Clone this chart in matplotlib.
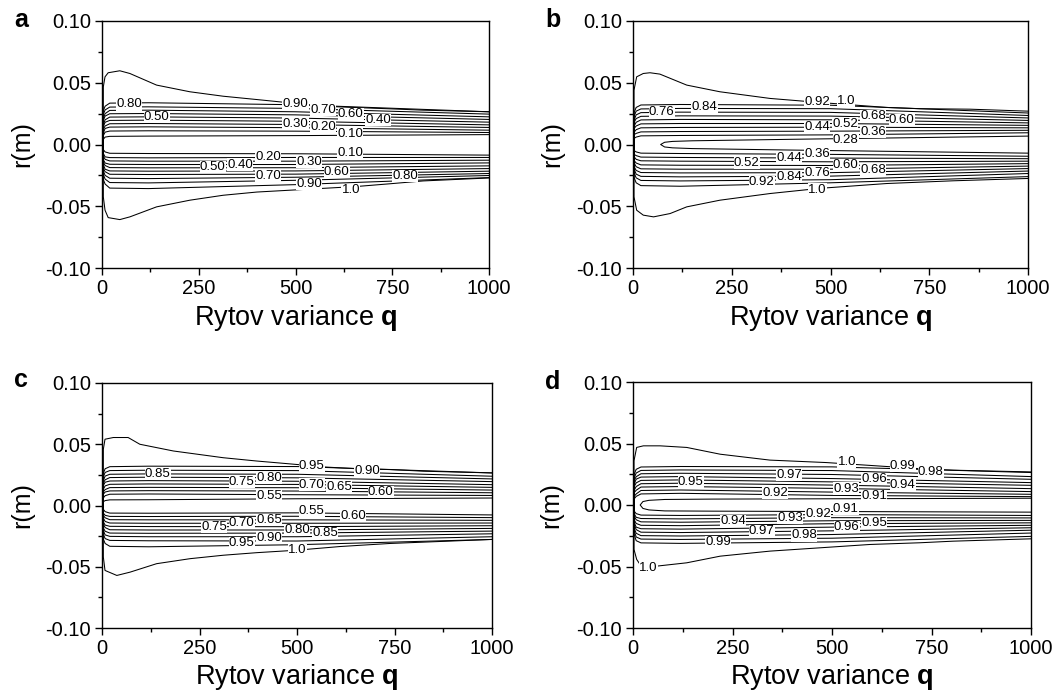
import matplotlib
matplotlib.use("Agg")
import matplotlib.pyplot as plt
from matplotlib.ticker import MultipleLocator, FormatStrFormatter

plt.rcParams['font.family'] = ['Liberation Sans', 'DejaVu Sans']
plt.rcParams['axes.unicode_minus'] = False
plt.rcParams['mathtext.fontset'] = 'custom'
plt.rcParams['mathtext.rm'] = 'Liberation Sans'
plt.rcParams['mathtext.bf'] = 'Liberation Sans:bold'

Q_IN = [3, 8, 20, 120, 500, 1000]

# ============================================================
# PANEL a  (levels 0.10 ... 1.0)
# ============================================================
A_OUT_Q = [3.4, 7.8, 16, 46, 72, 141, 227, 313, 400, 486, 572, 658, 744, 830, 1000]
A_OUT_UP = [0.0467, 0.0548, 0.0581, 0.0597, 0.0575, 0.0481, 0.0427, 0.0391,
            0.0364, 0.0337, 0.0310, 0.0299, 0.0289, 0.0278, 0.0265]
A_OUT_LO = [-0.0424, -0.0532, -0.0592, -0.0608, -0.0586, -0.0505, -0.0451, -0.0411,
            -0.0385, -0.0370, -0.0355, -0.0340, -0.0318, -0.0295, -0.0271]
A_IN_UP = [
    [0.027, 0.031, 0.0335, 0.0338, 0.0322, 0.0265],
    [0.024, 0.028, 0.0303, 0.0305, 0.0292, 0.0246],
    [0.021, 0.025, 0.0276, 0.0278, 0.0265, 0.0224],
    [0.019, 0.023, 0.0249, 0.0251, 0.0240, 0.0203],
    [0.016, 0.020, 0.0222, 0.0224, 0.0214, 0.0181],
    [0.014, 0.018, 0.0195, 0.0197, 0.0188, 0.0159],
    [0.012, 0.015, 0.0168, 0.0170, 0.0162, 0.0138],
    [0.009, 0.013, 0.0141, 0.0143, 0.0136, 0.0116],
    [0.007, 0.010, 0.0109, 0.0111, 0.0108, 0.0097],
    [0.004, 0.006, 0.0066, 0.0068, 0.0072, 0.0080],
]
A_IN_LO = [
    [-0.004, -0.006, -0.0071, -0.0073, -0.0075, -0.0086],
    [-0.007, -0.010, -0.0106, -0.0108, -0.0105, -0.0105],
    [-0.009, -0.012, -0.0133, -0.0135, -0.0135, -0.0127],
    [-0.012, -0.015, -0.0160, -0.0162, -0.0162, -0.0149],
    [-0.014, -0.017, -0.0187, -0.0189, -0.0188, -0.0173],
    [-0.016, -0.020, -0.0214, -0.0216, -0.0214, -0.0195],
    [-0.019, -0.022, -0.0241, -0.0243, -0.0240, -0.0216],
    [-0.021, -0.025, -0.0273, -0.0276, -0.0265, -0.0235],
    [-0.024, -0.028, -0.0308, -0.0311, -0.0290, -0.0251],
    [-0.028, -0.032, -0.0353, -0.0357, -0.0325, -0.0268],
]
A_LABELS = [("0.80", 70, 0.0324), ("0.50", 141, 0.0224), ("0.90", 500, 0.0324),
            ("0.70", 572, 0.0283), ("0.60", 643, 0.0246), ("0.40", 714, 0.0197),
            ("0.30", 500, 0.0170), ("0.20", 572, 0.0138), ("0.10", 641, 0.0089),
            ("0.10", 641, -0.0068), ("0.20", 430, -0.0105), ("0.30", 535, -0.0141),
            ("0.50", 286, -0.0181), ("0.40", 357, -0.0162), ("0.60", 606, -0.0222),
            ("0.70", 430, -0.0254), ("0.80", 783, -0.0254), ("0.90", 535, -0.0322),
            ("1.0", 643, -0.0370)]

# ============================================================
# PANEL b  (levels 0.28 ... 1.0)
# ============================================================
B_OUT_Q_UP = [2.5, 9.3, 26, 43, 68, 136, 220, 347, 473, 558, 642, 727, 853, 1000]
B_OUT_UP = [0.0440, 0.0548, 0.0575, 0.0581, 0.0570, 0.0481, 0.0427, 0.0373,
            0.0340, 0.0320, 0.0300, 0.0290, 0.0286, 0.0270]
B_OUT_Q_LO = [2.5, 9.3, 26, 52, 94, 136, 220, 347, 473, 642, 810, 1000]
B_OUT_LO = [-0.0424, -0.0532, -0.0572, -0.0586, -0.0559, -0.0505, -0.0451, -0.0397,
            -0.0355, -0.0316, -0.0294, -0.0275]
B_IN_UP = [
    [0.026, 0.030, 0.0320, 0.0324, 0.0318, 0.0255],
    [0.023, 0.027, 0.0288, 0.0292, 0.0290, 0.0235],
    [0.020, 0.024, 0.0258, 0.0262, 0.0260, 0.0215],
    [0.018, 0.021, 0.0228, 0.0232, 0.0230, 0.0195],
    [0.015, 0.018, 0.0199, 0.0203, 0.0200, 0.0175],
    [0.013, 0.015, 0.0167, 0.0170, 0.0170, 0.0155],
    [0.010, 0.012, 0.0135, 0.0138, 0.0140, 0.0135],
    [0.008, 0.009, 0.0102, 0.0105, 0.0108, 0.0115],
    [0.005, 0.006, 0.0070, 0.0073, 0.0078, 0.0095],
]
B_IN_LO = [
    [-0.005, -0.006, -0.0070, -0.0073, -0.0080, -0.0095],
    [-0.008, -0.009, -0.0102, -0.0105, -0.0110, -0.0115],
    [-0.010, -0.012, -0.0132, -0.0135, -0.0140, -0.0135],
    [-0.013, -0.015, -0.0165, -0.0168, -0.0170, -0.0155],
    [-0.015, -0.018, -0.0197, -0.0200, -0.0200, -0.0175],
    [-0.018, -0.021, -0.0227, -0.0230, -0.0228, -0.0195],
    [-0.020, -0.024, -0.0258, -0.0262, -0.0256, -0.0215],
    [-0.023, -0.027, -0.0291, -0.0295, -0.0285, -0.0235],
    [-0.027, -0.031, -0.0333, -0.0338, -0.0310, -0.0260],
]
B_PIN_Q = [70, 80, 100, 150, 400, 1000]
B_PIN_UP = [0.0, 0.0018, 0.0025, 0.0030, 0.0042, 0.0068]
B_PIN_LO = [0.0, -0.0020, -0.0027, -0.0033, -0.0045, -0.0070]
B_LABELS = [("0.76", 73, 0.0264), ("0.84", 181, 0.0300), ("0.92", 467, 0.0345),
            ("1.0", 539, 0.0353), ("0.68", 608, 0.0229), ("0.60", 680, 0.0197),
            ("0.44", 467, 0.0143), ("0.52", 537, 0.0170), ("0.36", 608, 0.0102),
            ("0.28", 538, 0.0035), ("0.52", 288, -0.0146), ("0.44", 395, -0.0108),
            ("0.36", 467, -0.0079), ("0.60", 538, -0.0168), ("0.68", 608, -0.0203),
            ("0.76", 467, -0.0230), ("0.84", 395, -0.0262), ("0.92", 326, -0.0303),
            ("1.0", 467, -0.0365)]

# ============================================================
# PANEL c  (levels 0.55 ... 1.0)
# ============================================================
C_OUT_Q_UP = [3.4, 7.7, 29, 67, 97, 183, 311, 397, 499, 567, 653, 738, 824, 1000]
C_OUT_UP = [0.0459, 0.0541, 0.0555, 0.0555, 0.0500, 0.0445, 0.0390, 0.0363,
            0.0335, 0.0315, 0.0300, 0.0294, 0.0280, 0.0266]
C_OUT_Q_LO = [3.4, 7.7, 38, 72, 140, 226, 311, 397, 499, 610, 738, 1000]
C_OUT_LO = [-0.0420, -0.0530, -0.0571, -0.0544, -0.0475, -0.0434, -0.0406, -0.0385,
            -0.0365, -0.0335, -0.0310, -0.0277]
C_IN_UP = [
    [0.026, 0.030, 0.0317, 0.0321, 0.0318, 0.0266],
    [0.023, 0.027, 0.0285, 0.0288, 0.0285, 0.0239],
    [0.020, 0.024, 0.0255, 0.0258, 0.0255, 0.0217],
    [0.018, 0.021, 0.0228, 0.0231, 0.0226, 0.0195],
    [0.016, 0.019, 0.0200, 0.0203, 0.0198, 0.0170],
    [0.013, 0.016, 0.0173, 0.0176, 0.0172, 0.0148],
    [0.011, 0.013, 0.0146, 0.0148, 0.0145, 0.0126],
    [0.009, 0.011, 0.0119, 0.0121, 0.0118, 0.0104],
    [0.006, 0.008, 0.0092, 0.0094, 0.0088, 0.0082],
    [0.003, 0.004, 0.0046, 0.0047, 0.0055, 0.0061],
]
C_IN_LO = [
    [-0.003, -0.005, -0.0062, -0.0063, -0.0060, -0.0077],
    [-0.006, -0.008, -0.0089, -0.0090, -0.0088, -0.0099],
    [-0.008, -0.010, -0.0116, -0.0117, -0.0117, -0.0121],
    [-0.010, -0.013, -0.0143, -0.0145, -0.0145, -0.0143],
    [-0.013, -0.016, -0.0170, -0.0172, -0.0173, -0.0165],
    [-0.015, -0.018, -0.0198, -0.0200, -0.0200, -0.0187],
    [-0.018, -0.021, -0.0225, -0.0227, -0.0225, -0.0209],
    [-0.020, -0.024, -0.0252, -0.0255, -0.0255, -0.0231],
    [-0.023, -0.027, -0.0285, -0.0288, -0.0290, -0.0255],
    [-0.027, -0.031, -0.0333, -0.0337, -0.0320, -0.0277],
]
C_LABELS = [("0.85", 143, 0.0261), ("0.75", 358, 0.0193), ("0.80", 429, 0.0226),
            ("0.95", 538, 0.0321), ("0.90", 680, 0.0280), ("0.70", 538, 0.0171),
            ("0.65", 608, 0.0151), ("0.60", 715, 0.0110), ("0.55", 429, 0.0080),
            ("0.55", 538, -0.0044), ("0.60", 644, -0.0085), ("0.75", 287, -0.0173),
            ("0.70", 358, -0.0145), ("0.65", 429, -0.0118), ("0.80", 501, -0.0200),
            ("0.85", 572, -0.0222), ("0.90", 429, -0.0263), ("0.95", 358, -0.0305),
            ("1.0", 501, -0.0365)]

# ============================================================
# PANEL d  (levels 0.91 ... 1.0)
# ============================================================
D_OUT_Q_UP = [2.5, 5, 9.2, 26, 68, 135, 219, 344, 486, 595, 721, 805, 1000]
D_OUT_UP = [0.0360, 0.0400, 0.0468, 0.0481, 0.0481, 0.0468, 0.0413, 0.0365,
            0.0345, 0.0322, 0.0295, 0.0283, 0.0269]
D_OUT_Q_LO = [2.5, 9.2, 17.6, 59.5, 135, 219, 344, 470, 595, 721, 805, 1000]
D_OUT_LO = [-0.0361, -0.0442, -0.0483, -0.0497, -0.0470, -0.0416, -0.0375, -0.0348,
            -0.0321, -0.0307, -0.0294, -0.0275]
D_IN_UP = [
    [0.025, 0.029, 0.0309, 0.0313, 0.0310, 0.0264],
    [0.022, 0.026, 0.0281, 0.0285, 0.0280, 0.0231],
    [0.020, 0.023, 0.0254, 0.0258, 0.0248, 0.0209],
    [0.017, 0.021, 0.0227, 0.0231, 0.0215, 0.0182],
    [0.015, 0.018, 0.0200, 0.0204, 0.0188, 0.0160],
    [0.012, 0.015, 0.0173, 0.0177, 0.0162, 0.0133],
    [0.010, 0.012, 0.0146, 0.0150, 0.0135, 0.0109],
    [0.007, 0.009, 0.0118, 0.0122, 0.0105, 0.0087],
    [0.005, 0.007, 0.0090, 0.0095, 0.0078, 0.0068],
]
D_IN_LO = [
    [-0.005, -0.007, -0.0082, -0.0085, -0.0078, -0.0085],
    [-0.007, -0.010, -0.0110, -0.0113, -0.0103, -0.0105],
    [-0.009, -0.012, -0.0137, -0.0140, -0.0128, -0.0125],
    [-0.012, -0.015, -0.0165, -0.0168, -0.0152, -0.0145],
    [-0.014, -0.018, -0.0193, -0.0196, -0.0180, -0.0165],
    [-0.016, -0.020, -0.0221, -0.0224, -0.0210, -0.0185],
    [-0.019, -0.023, -0.0249, -0.0252, -0.0240, -0.0205],
    [-0.021, -0.026, -0.0277, -0.0280, -0.0270, -0.0228],
    [-0.024, -0.029, -0.0308, -0.0312, -0.0300, -0.0255],
]
D_PIN_Q = [18, 25, 40, 80, 200, 1000]
D_PIN_UP = [0.0, 0.0028, 0.0038, 0.0045, 0.0048, 0.0055]
D_PIN_LO = [0.0, -0.0028, -0.0040, -0.0048, -0.0050, -0.0058]
D_LABELS = [("0.95", 145, 0.0188), ("0.97", 393, 0.0242), ("0.92", 357, 0.0101),
            ("1.0", 537, 0.0353), ("0.99", 678, 0.0318), ("0.98", 748, 0.0272),
            ("0.96", 606, 0.0209), ("0.94", 678, 0.0161), ("0.93", 535, 0.0134),
            ("0.91", 606, 0.0073), ("0.91", 535, -0.0035), ("0.92", 466, -0.0076),
            ("0.93", 395, -0.0103), ("0.94", 252, -0.0130), ("0.96", 537, -0.0179),
            ("0.95", 606, -0.0149), ("0.97", 323, -0.0212), ("0.98", 430, -0.0247),
            ("0.99", 214, -0.0298), ("1.0", 38, -0.0510)]

LW = 0.75


def draw_panel(ax, out_q_up, out_up, out_q_lo, out_lo, in_up, in_lo, labels,
               pin=None):
    # outermost closed contour: upper branch backwards, then lower branch
    ax.plot(out_q_up[::-1] + out_q_lo, out_up[::-1] + out_lo, color='k', lw=LW)
    # inner contours, closed at the left edge
    for ru, rl in zip(in_up, in_lo):
        ax.plot(Q_IN[::-1] + Q_IN, ru[::-1] + rl, color='k', lw=LW)
    # hairpin contour around the axis (b and d)
    if pin is not None:
        pq, pu, pl = pin
        ax.plot(pq[::-1] + pq, pu[::-1] + pl, color='k', lw=LW)
    for txt, q, r in labels:
        ax.text(q, r, txt, fontsize=9.5, ha='center', va='center', zorder=5,
                bbox=dict(facecolor='white', edgecolor='none', pad=0.1))

    ax.set_xlim(0, 1000)
    ax.set_ylim(-0.10, 0.10)
    ax.xaxis.set_major_locator(MultipleLocator(250))
    ax.xaxis.set_minor_locator(MultipleLocator(125))
    ax.yaxis.set_major_locator(MultipleLocator(0.05))
    ax.yaxis.set_minor_locator(MultipleLocator(0.025))
    ax.yaxis.set_major_formatter(FormatStrFormatter('%.2f'))
    ax.tick_params(which='major', direction='out', length=5, width=1,
                   labelsize=14.5, pad=3)
    ax.tick_params(which='minor', direction='out', length=3, width=1)
    for sp in ax.spines.values():
        sp.set_linewidth(1)
    ax.set_xlabel(r'Rytov variance $\mathbf{q}$', fontsize=19.5)
    ax.set_ylabel('r(m)', fontsize=18)
    ax.xaxis.set_label_coords(0.5, -0.14)
    ax.yaxis.set_label_coords(-0.175, 0.5)


W, H = 1058, 695
fig = plt.figure(figsize=(W / 100, H / 100), dpi=100)


def rect(left, right, top, bottom):
    return [left / W, 1 - bottom / H, (right - left) / W, (bottom - top) / H]


ax_a = fig.add_axes(rect(102, 489, 21, 268))
ax_b = fig.add_axes(rect(633, 1028, 21, 268))
ax_c = fig.add_axes(rect(102, 492, 383, 628))
ax_d = fig.add_axes(rect(633, 1031, 382, 628))

draw_panel(ax_a, A_OUT_Q, A_OUT_UP, A_OUT_Q, A_OUT_LO, A_IN_UP, A_IN_LO, A_LABELS)
draw_panel(ax_b, B_OUT_Q_UP, B_OUT_UP, B_OUT_Q_LO, B_OUT_LO, B_IN_UP, B_IN_LO,
           B_LABELS, pin=(B_PIN_Q, B_PIN_UP, B_PIN_LO))
draw_panel(ax_c, C_OUT_Q_UP, C_OUT_UP, C_OUT_Q_LO, C_OUT_LO, C_IN_UP, C_IN_LO,
           C_LABELS)
draw_panel(ax_d, D_OUT_Q_UP, D_OUT_UP, D_OUT_Q_LO, D_OUT_LO, D_IN_UP, D_IN_LO,
           D_LABELS, pin=(D_PIN_Q, D_PIN_UP, D_PIN_LO))

for letter, x, y in [('a', 21, 20), ('b', 553, 20), ('c', 21, 380), ('d', 553, 382)]:
    fig.text(x / W, 1 - y / H, letter, fontsize=18, fontweight='bold',
             ha='center', va='center')

fig.savefig('out.png', dpi=100)
